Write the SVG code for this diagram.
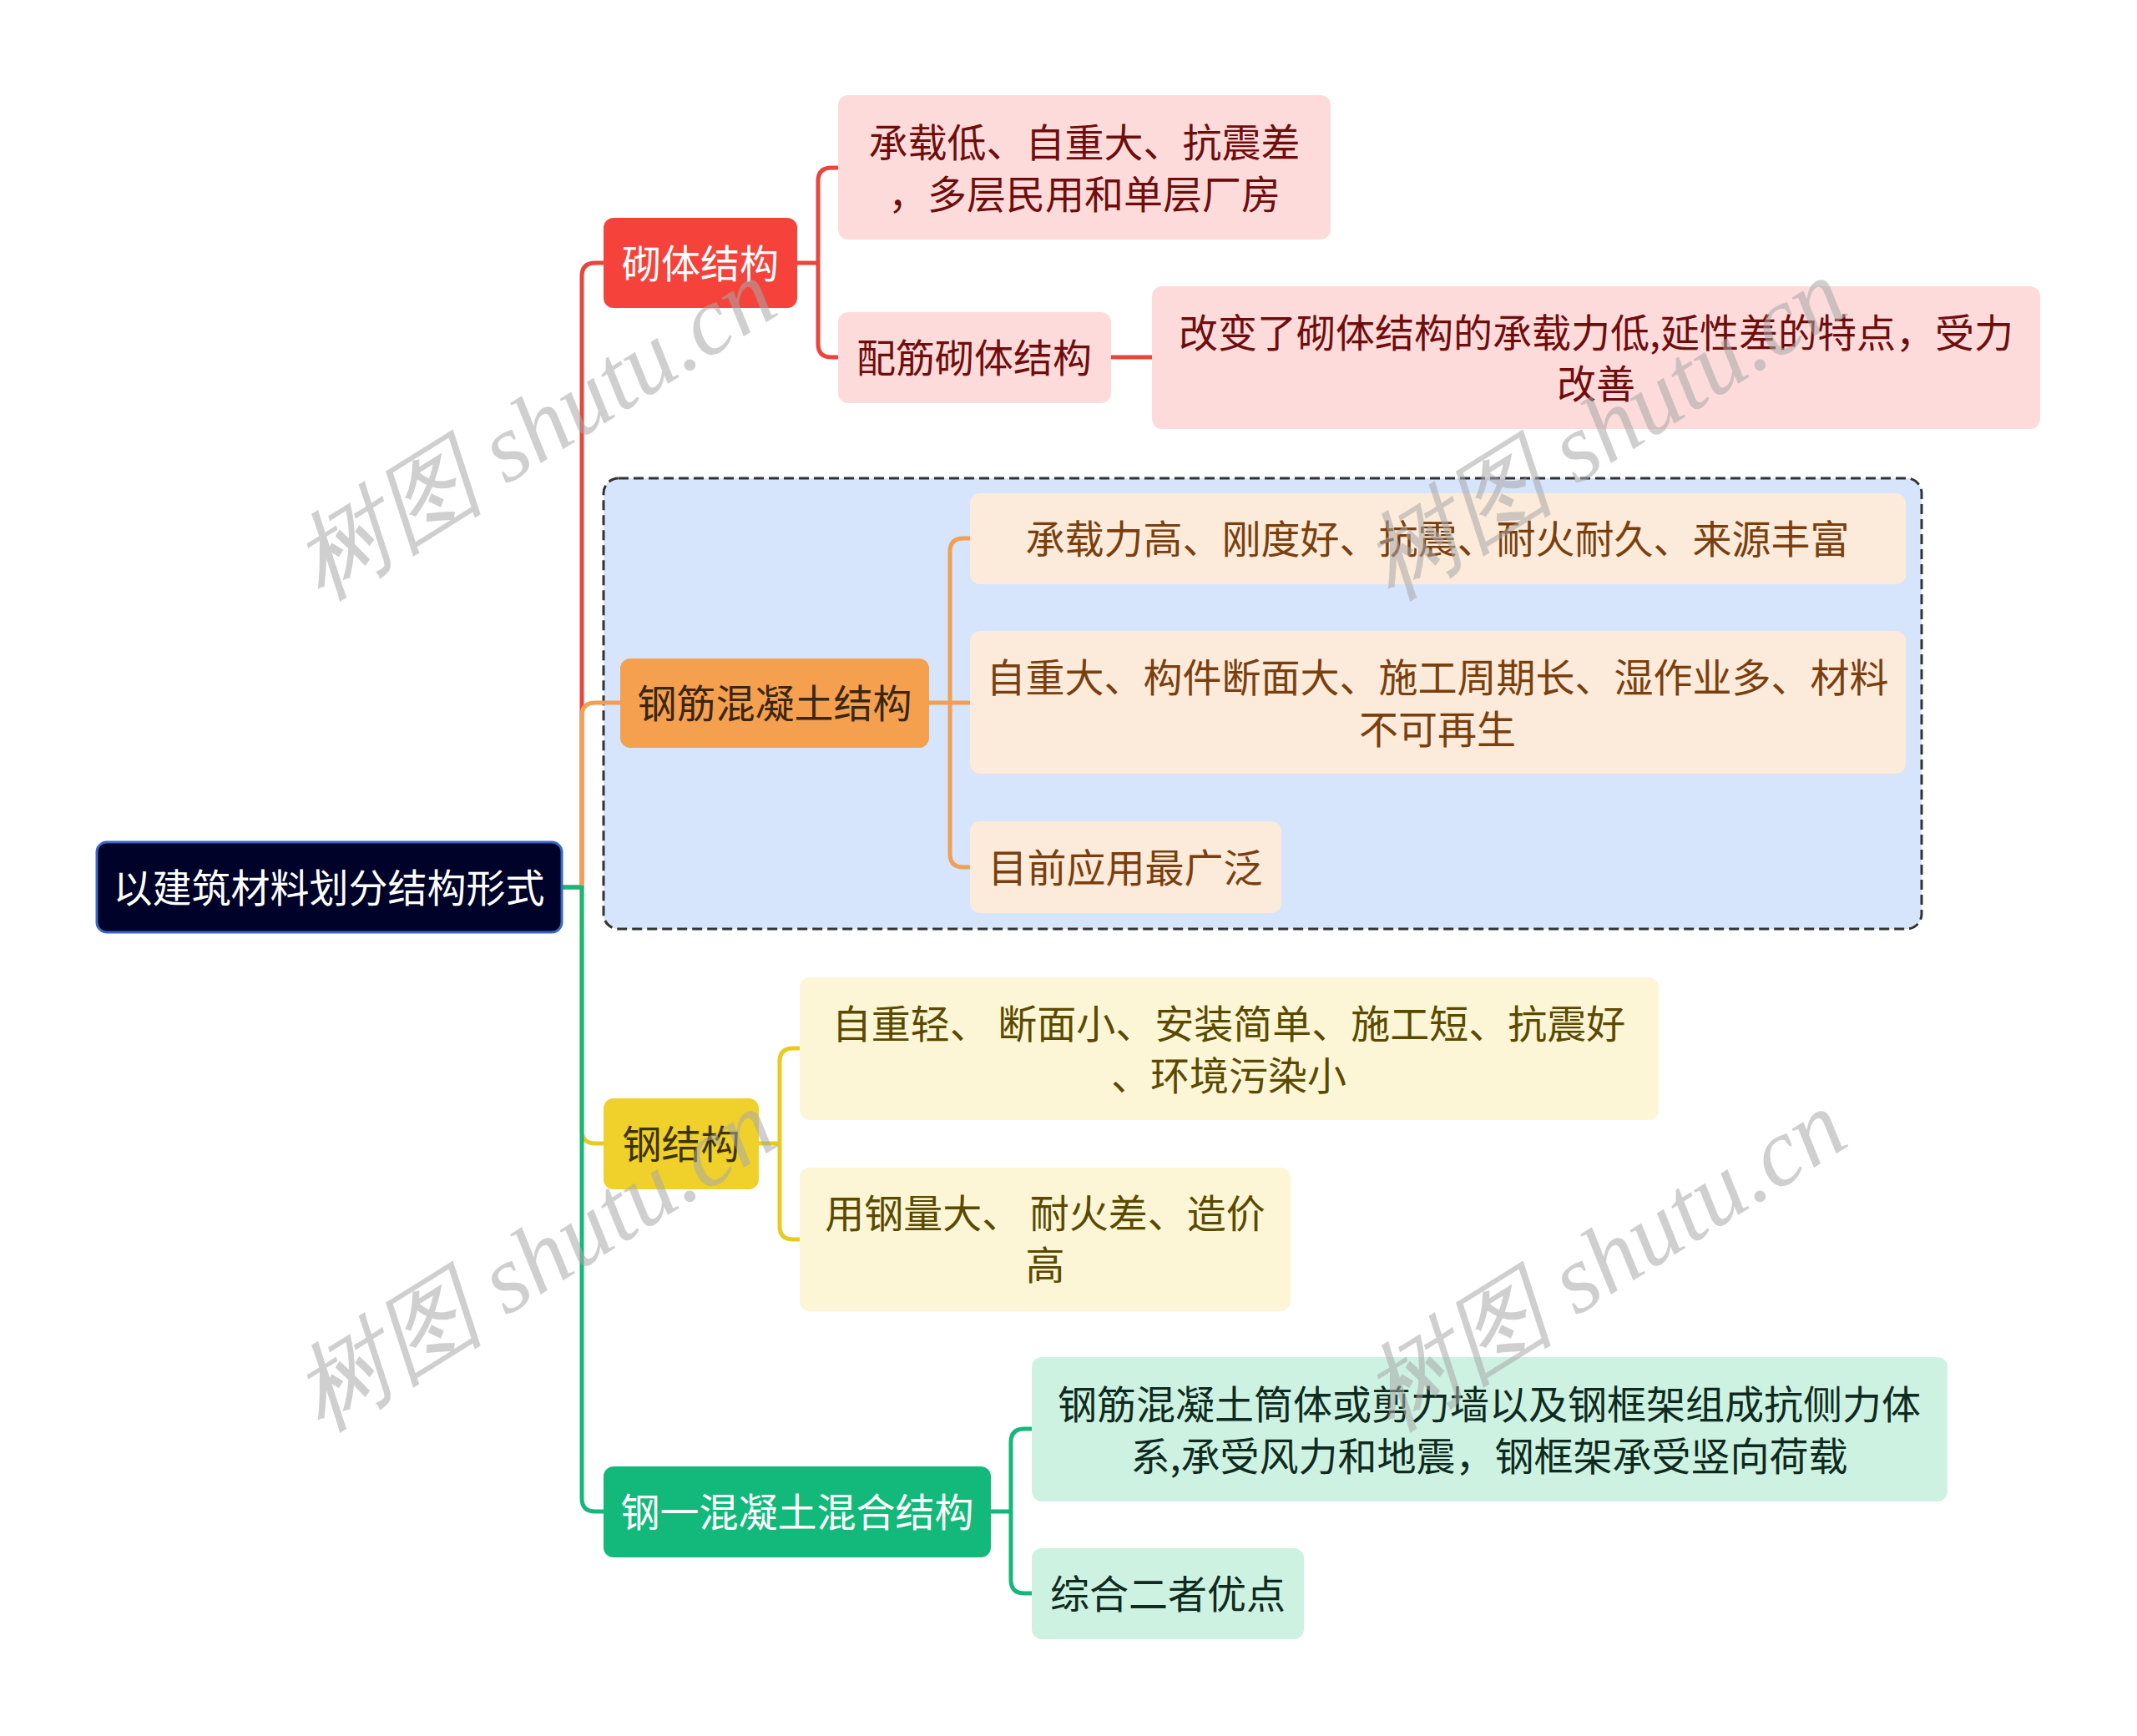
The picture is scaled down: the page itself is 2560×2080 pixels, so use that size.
<svg xmlns="http://www.w3.org/2000/svg" width="2560" height="2080" viewBox="0 0 2560 2080">
<style>
text{font-family:"Noto Sans CJK SC","Noto Sans",sans-serif;font-size:47px;text-anchor:middle;dominant-baseline:central}
.c{fill:none;stroke-width:5;stroke-linecap:round;stroke-linejoin:round}
.red{stroke:#e8453c}.org{stroke:#f0a055}.yel{stroke:#e9cb1e}.grn{stroke:#16b77a}
.wm{font-family:"Liberation Serif",serif;font-style:italic;font-size:116px;fill:#a8a8a8;fill-opacity:0.55;text-anchor:middle;dominant-baseline:central}
</style>
<rect width="2560" height="2080" fill="#ffffff"/>
<g id="frame-rc">
<rect x="723" y="573" width="1579" height="540" rx="18" fill="#d6e4fc" stroke="#333333" stroke-width="3" stroke-dasharray="12 6"/>
</g>
<g id="connectors">
<path class="c red" d="M673,1063 H697 V331 Q697,315 713,315 H723"/>
<path class="c org" d="M697,1063 V858 Q697,842 713,842 H743"/>
<path class="c yel" d="M697,1063 V1354 Q697,1370 713,1370 H723"/>
<path class="c grn" d="M673,1063 H697 V1795 Q697,1811 713,1811 H723"/>
<path class="c red" d="M955,315 H980 M1004,201 H996 Q980,201 980,217 V412 Q980,428 996,428 H1004 M1331,428 H1380"/>
<path class="c org" d="M1113,842 H1162 M1162,645 H1154 Q1138,645 1138,661 V1023 Q1138,1039 1154,1039 H1162"/>
<path class="c yel" d="M909,1370 H934 M958,1256 H950 Q934,1256 934,1272 V1469 Q934,1485 950,1485 H958"/>
<path class="c grn" d="M1187,1811 H1211 M1236,1712 H1227 Q1211,1712 1211,1728 V1893 Q1211,1909 1227,1909 H1236"/>
</g>
<g id="root">
<rect x="116" y="1009" width="557" height="108" rx="12" fill="#000229" stroke="#3a66c4" stroke-width="3"/>
<text x="394" y="1060" fill="#ffffff">以建筑材料划分结构形式</text>
</g>
<g id="b1">
<rect x="723" y="261" width="232" height="108" rx="12" fill="#f5433b"/>
<text x="839" y="312" fill="#ffffff">砌体结构</text>
</g>
<g id="b1c1">
<rect x="1004" y="114" width="590" height="173" rx="12" fill="#fddbdb"/>
<text x="1299" y="167" fill="#6f0d0d">承载低、自重大、抗震差</text>
<text x="1299" y="229" fill="#6f0d0d">，多层民用和单层厂房</text>
</g>
<g id="b1c2">
<rect x="1004" y="374" width="327" height="109" rx="12" fill="#fddbdb"/>
<text x="1167" y="425" fill="#6f0d0d">配筋砌体结构</text>
</g>
<g id="b1c2c1">
<rect x="1380" y="343" width="1064" height="171" rx="12" fill="#fddbdb"/>
<text x="1912" y="395" fill="#6f0d0d">改变了砌体结构的承载力低,延性差的特点，受力</text>
<text x="1912" y="456" fill="#6f0d0d">改善</text>
</g>
<g id="b2">
<rect x="743" y="789" width="370" height="107" rx="12" fill="#f4a04f"/>
<text x="928" y="839" fill="#3b2612">钢筋混凝土结构</text>
</g>
<g id="b2c1">
<rect x="1162" y="591" width="1121" height="109" rx="12" fill="#fcebda"/>
<text x="1722" y="642" fill="#7a3f0e">承载力高、刚度好、抗震、耐火耐久、来源丰富</text>
</g>
<g id="b2c2">
<rect x="1162" y="756" width="1121" height="171" rx="12" fill="#fcebda"/>
<text x="1722" y="808" fill="#7a3f0e">自重大、构件断面大、施工周期长、湿作业多、材料</text>
<text x="1722" y="870" fill="#7a3f0e">不可再生</text>
</g>
<g id="b2c3">
<rect x="1162" y="984" width="373" height="110" rx="12" fill="#fcebda"/>
<text x="1348" y="1036" fill="#7a3f0e">目前应用最广泛</text>
</g>
<g id="b3">
<rect x="723" y="1316" width="186" height="109" rx="12" fill="#f0d02a"/>
<text x="816" y="1367" fill="#3d3300">钢结构</text>
</g>
<g id="b3c1">
<rect x="958" y="1171" width="1029" height="171" rx="12" fill="#fcf6d6"/>
<text x="1472" y="1223" fill="#5a4a00">自重轻、 断面小、安装简单、施工短、抗震好</text>
<text x="1472" y="1285" fill="#5a4a00">、环境污染小</text>
</g>
<g id="b3c2">
<rect x="958" y="1399" width="588" height="172" rx="12" fill="#fcf6d6"/>
<text x="1252" y="1450" fill="#5a4a00">用钢量大、 耐火差、造价</text>
<text x="1252" y="1512" fill="#5a4a00">高</text>
</g>
<g id="b4">
<rect x="723" y="1757" width="464" height="109" rx="12" fill="#12b97a"/>
<text x="955" y="1808" fill="#ffffff">钢一混凝土混合结构</text>
</g>
<g id="b4c1">
<rect x="1236" y="1626" width="1097" height="173" rx="12" fill="#cdf2e2"/>
<text x="1784" y="1679" fill="#0f2a1e">钢筋混凝土筒体或剪力墙以及钢框架组成抗侧力体</text>
<text x="1784" y="1741" fill="#0f2a1e">系,承受风力和地震，钢框架承受竖向荷载</text>
</g>
<g id="b4c2">
<rect x="1236" y="1855" width="326" height="109" rx="12" fill="#cdf2e2"/>
<text x="1399" y="1906" fill="#0f2a1e">综合二者优点</text>
</g>
<g id="watermarks">
<text class="wm" transform="translate(640,514) rotate(-32)">树图 shutu.cn</text>
<text class="wm" transform="translate(1922,514) rotate(-32)">树图 shutu.cn</text>
<text class="wm" transform="translate(640,1510) rotate(-32)">树图 shutu.cn</text>
<text class="wm" transform="translate(1922,1510) rotate(-32)">树图 shutu.cn</text>
</g>
</svg>
